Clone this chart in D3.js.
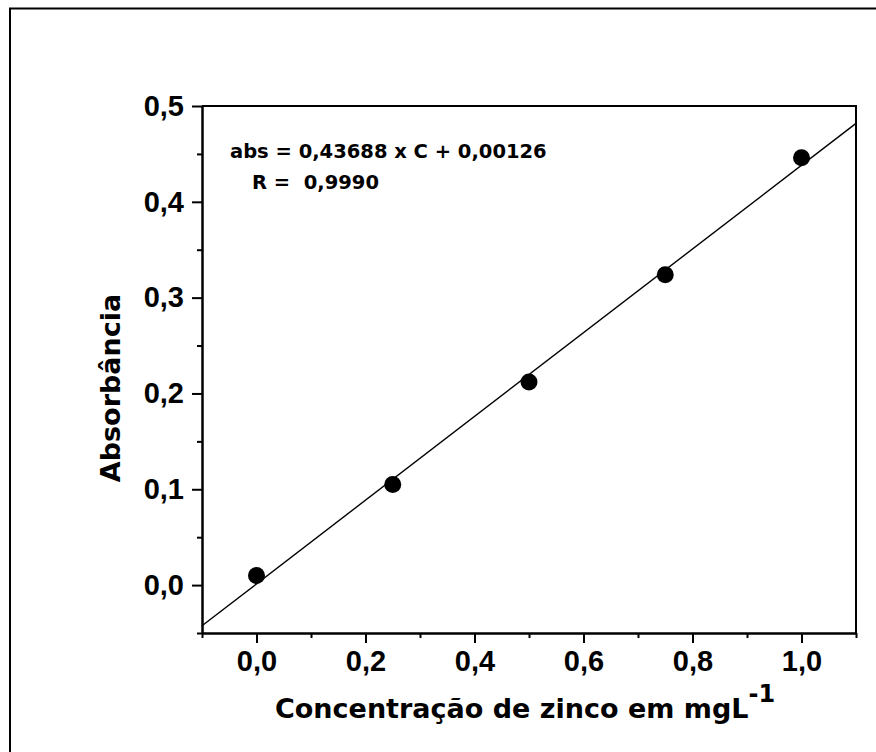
<!DOCTYPE html>
<html>
<head>
<meta charset="utf-8">
<script src="https://cdnjs.cloudflare.com/ajax/libs/d3/7.8.5/d3.min.js"></script>
<style>
  body { margin: 0; background: #fff; }
</style>
</head>
<body>
<div id="chart"></div>
<script>
// calibration points
var concentracao = [0, 0.25, 0.5, 0.75, 1.0];
var absorbancia = [0.010, 0.105, 0.212, 0.324, 0.446];

// linear fit shown on the chart
var slope = 0.43688;
var intercept = 0.00126;

var xMajor = [0, 0.2, 0.4, 0.6, 0.8, 1.0];
var xMinor = [-0.1, 0.1, 0.3, 0.5, 0.7, 0.9, 1.1];
var yMajor = [0, 0.1, 0.2, 0.3, 0.4, 0.5];
var yMinor = [-0.05, 0.05, 0.15, 0.25, 0.35, 0.45];

var svg = d3.select("#chart")
            .append("svg")
            .attr("width", 876)
            .attr("height", 752);

// outer frame (runs off the right/bottom of the picture)
svg.append("rect")
   .attr("x", 10).attr("y", 8.5)
   .attr("width", 900).attr("height", 800)
   .attr("fill", "none")
   .attr("stroke", "#000")
   .attr("stroke-width", 2);

var pLeft = 202, pRight = 856, pTop = 106, pBottom = 633;

var x = d3.scaleLinear().domain([-0.1, 1.1]).range([pLeft, pRight]);
var y = d3.scaleLinear().domain([-0.05, 0.5]).range([pBottom, pTop]);

var fmt = function(d) { return d3.format(".1f")(d).replace(".", ","); };

// box top + right
svg.append("path")
   .attr("d", "M" + pLeft + "," + pTop + "H" + pRight + "V" + pBottom)
   .attr("fill", "none")
   .attr("stroke", "#000")
   .attr("stroke-width", 2);

function styleAxis(g) {
  g.select(".domain").attr("stroke-width", 2);
  g.selectAll(".tick line").attr("stroke-width", 2);
  g.selectAll("text")
   .attr("font-family", "'Liberation Sans', Arial, sans-serif")
   .attr("font-weight", "bold")
   .attr("font-size", 29)
   .attr("fill", "#000");
}

svg.append("g")
   .attr("transform", "translate(0," + pBottom + ")")
   .call(d3.axisBottom(x).tickValues(xMinor).tickSize(5).tickFormat("").tickSizeOuter(0))
   .call(styleAxis);
svg.append("g")
   .attr("transform", "translate(0," + pBottom + ")")
   .call(d3.axisBottom(x).tickValues(xMajor).tickSize(10).tickPadding(7).tickFormat(fmt).tickSizeOuter(0))
   .call(styleAxis);

svg.append("g")
   .attr("transform", "translate(" + pLeft + ",0)")
   .call(d3.axisLeft(y).tickValues(yMinor).tickSize(5).tickFormat("").tickSizeOuter(0))
   .call(styleAxis);
svg.append("g")
   .attr("transform", "translate(" + pLeft + ",0)")
   .call(d3.axisLeft(y).tickValues(yMajor).tickSize(10).tickPadding(8).tickFormat(fmt).tickSizeOuter(0))
   .call(styleAxis);

// fitted line across the whole x range
var fit = x.domain().map(function(c) { return [c, slope * c + intercept]; });
svg.append("path")
   .datum(fit)
   .attr("d", d3.line().x(function(d) { return x(d[0]); }).y(function(d) { return y(d[1]); }))
   .attr("fill", "none")
   .attr("stroke", "#000")
   .attr("stroke-width", 1.4);

svg.selectAll("circle.pt")
   .data(concentracao)
   .enter()
   .append("circle")
   .attr("class", "pt")
   .attr("cx", function(d) { return x(d); })
   .attr("cy", function(d, i) { return y(absorbancia[i]); })
   .attr("r", 8.5)
   .attr("fill", "#000");

// equation
var verd = "'DejaVu Sans', Verdana, sans-serif";
svg.append("text")
   .attr("x", 230).attr("y", 158)
   .attr("font-family", verd).attr("font-weight", "bold").attr("font-size", 19.5)
   .text("abs = 0,43688 x C + 0,00126");
svg.append("text")
   .attr("x", 252).attr("y", 189)
   .attr("font-family", verd).attr("font-weight", "bold").attr("font-size", 19.5)
   .style("white-space", "pre")
   .text("R =  0,9990");

// axis titles
svg.append("text")
   .attr("transform", "translate(120,388) rotate(-90)")
   .attr("text-anchor", "middle")
   .attr("font-family", verd).attr("font-weight", "bold").attr("font-size", 27)
   .text("Absorbância");

var xt = svg.append("text")
   .attr("x", 275).attr("y", 718)
   .attr("font-family", verd).attr("font-weight", "bold").attr("font-size", 27);
xt.append("tspan").text("Concentração de zinco em mgL");
xt.append("tspan").attr("dy", -16).attr("font-size", 24).text("-1");
</script>
</body>
</html>
